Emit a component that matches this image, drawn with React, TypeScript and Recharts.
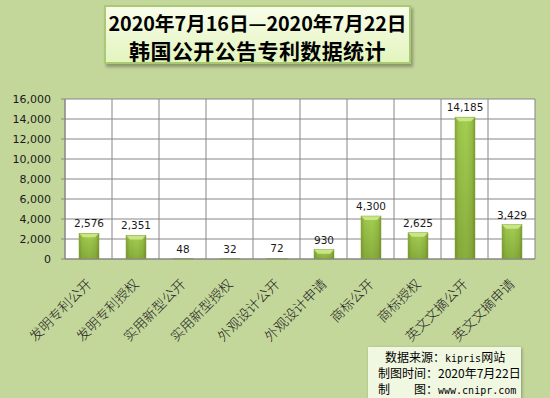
import React from "react";
import { BarChart, Bar, XAxis, YAxis, CartesianGrid, LabelList } from "recharts";

const categories = [
  "发明专利公开",
  "发明专利授权",
  "实用新型公开",
  "实用新型授权",
  "外观设计公开",
  "外观设计申请",
  "商标公开",
  "商标授权",
  "英文文摘公开",
  "英文文摘申请",
];
const counts = [2576, 2351, 48, 32, 72, 930, 4300, 2625, 14185, 3429];
const yTicks = [0, 2000, 4000, 6000, 8000, 10000, 12000, 14000, 16000];
const titleLines = ["2020年7月16日—2020年7月22日", "韩国公开公告专利数据统计"];
const sourceLabels = ["数据来源：", "制图时间：", "制　　图："];
const sourceValues = ["kipris", "网站", "2020年7月22日", "www.cnipr.com"];

const data = categories.map((name, i) => ({ name, value: counts[i] }));

const fmt = (v: number) => v.toLocaleString("en-US");

const BarShape = (props: any) => {
  const { x, y, width, height } = props;
  if (height <= 0) return null;
  const bev = Math.min(4, height / 2);
  return (
    <g>
      <rect x={x} y={y} width={width} height={height} fill="url(#barGrad)" />
      <rect x={x} y={y} width={width} height={height} fill="url(#barShade)" />
      <polygon
        points={`${x},${y} ${x + width},${y} ${x + width - 4},${y + bev} ${x + 4},${y + bev}`}
        fill="#c8e683"
      />
      <rect x={x} y={y} width={width} height={height} fill="none" stroke="#86a63d" strokeWidth={0.5} />
    </g>
  );
};

const XTick = (props: any) => {
  const { x, y, payload } = props;
  const tx = x + 4;
  const ty = y + 18;
  return (
    <text
      x={tx}
      y={ty}
      textAnchor="end"
      transform={`rotate(-45 ${tx} ${ty})`}
      fontFamily="'Noto Sans CJK SC'"
      fontWeight={300}
      fontSize={13.5}
      fill="#222"
    >
      {payload.value}
    </text>
  );
};

const mono = { fontFamily: "'DejaVu Sans Mono'", fontSize: 10 };

export default function App() {
  return (
    <div
      style={{
        position: "absolute",
        left: 0,
        top: 0,
        width: 550,
        height: 398,
        background: "#c4d79b",
        overflow: "hidden",
      }}
    >
      <BarChart
        width={550}
        height={398}
        data={data}
        margin={{ top: 99, right: 15, bottom: 109, left: 0 }}
        barSize={20}
      >
        <defs>
          <linearGradient id="barGrad" x1="0" y1="0" x2="1" y2="0">
            <stop offset="0%" stopColor="#86a63c" />
            <stop offset="18%" stopColor="#9cc64a" />
            <stop offset="55%" stopColor="#a5cf53" />
            <stop offset="85%" stopColor="#98c048" />
            <stop offset="100%" stopColor="#7c9a33" />
          </linearGradient>
          <linearGradient id="barShade" x1="0" y1="0" x2="0" y2="1">
            <stop offset="0%" stopColor="#4a6010" stopOpacity={0} />
            <stop offset="100%" stopColor="#4a6010" stopOpacity={0.3} />
          </linearGradient>
        </defs>
        <CartesianGrid
          fill="#ffffff"
          stroke="#868686"
          strokeWidth={1}
          verticalCoordinatesGenerator={({ offset }: any) =>
            Array.from({ length: categories.length + 1 }, (_, i) => offset.left + (i * offset.width) / categories.length)
          }
        />
        <XAxis
          dataKey="name"
          interval={0}
          height={30}
          tickLine={false}
          axisLine={{ stroke: "#868686" }}
          tick={<XTick />}
        />
        <YAxis
          width={65}
          domain={[0, 16000]}
          ticks={yTicks}
          interval={0}
          tickFormatter={fmt}
          tickSize={4}
          tickMargin={10}
          axisLine={{ stroke: "#868686" }}
          tickLine={{ stroke: "#868686" }}
          tick={{ fontFamily: "'DejaVu Sans'", fontSize: 11, fill: "#1a1a1a" }}
        />
        <Bar dataKey="value" isAnimationActive={false} shape={<BarShape />}>
          <LabelList
            dataKey="value"
            position="top"
            offset={6}
            formatter={(v: any) => fmt(Number(v))}
            style={{ fontFamily: "'DejaVu Sans'", fontSize: 10.5, fill: "#1a1a1a" }}
          />
        </Bar>
      </BarChart>

      <div
        style={{
          position: "absolute",
          left: 104,
          top: 5,
          width: 303,
          height: 55,
          border: "2px solid #a9c972",
          background: "linear-gradient(#f8fdea, #e3f4bd)",
          boxShadow: "2px 3px 3px rgba(0,0,0,0.3)",
          fontFamily: "'Noto Sans CJK SC'",
          fontWeight: 700,
          color: "#000",
          textAlign: "center",
        }}
      >
        <div
          style={{
            position: "absolute",
            left: -10,
            right: -10,
            top: 4,
            fontSize: 19.8,
            lineHeight: "24px",
            whiteSpace: "nowrap",
            letterSpacing: -0.1,
          }}
        >
          {titleLines[0]}
        </div>
        <div
          style={{
            position: "absolute",
            left: -10,
            right: -10,
            top: 30,
            fontSize: 21,
            lineHeight: "26px",
            letterSpacing: 0.4,
            whiteSpace: "nowrap",
          }}
        >
          {titleLines[1]}
        </div>
      </div>

      <div
        style={{
          position: "absolute",
          left: 368,
          top: 347,
          width: 153,
          height: 60,
          background: "#f1f8e1",
          boxShadow: "1px 1px 3px rgba(0,0,0,0.3)",
          fontFamily: "'Noto Sans CJK SC'",
          fontSize: 12,
          color: "#000",
        }}
      >
        <div style={{ position: "absolute", left: 17, top: 2, lineHeight: "16px", whiteSpace: "nowrap" }}>
          {sourceLabels[0]}
          <span style={mono}>{sourceValues[0]}</span>
          {sourceValues[1]}
        </div>
        <div style={{ position: "absolute", left: 10, top: 18, lineHeight: "16px", whiteSpace: "nowrap" }}>
          {sourceLabels[1]}
          {sourceValues[2]}
        </div>
        <div style={{ position: "absolute", left: 10, top: 34, lineHeight: "16px", whiteSpace: "nowrap" }}>
          {sourceLabels[2]}
          <span style={mono}>{sourceValues[3]}</span>
        </div>
      </div>
    </div>
  );
}
